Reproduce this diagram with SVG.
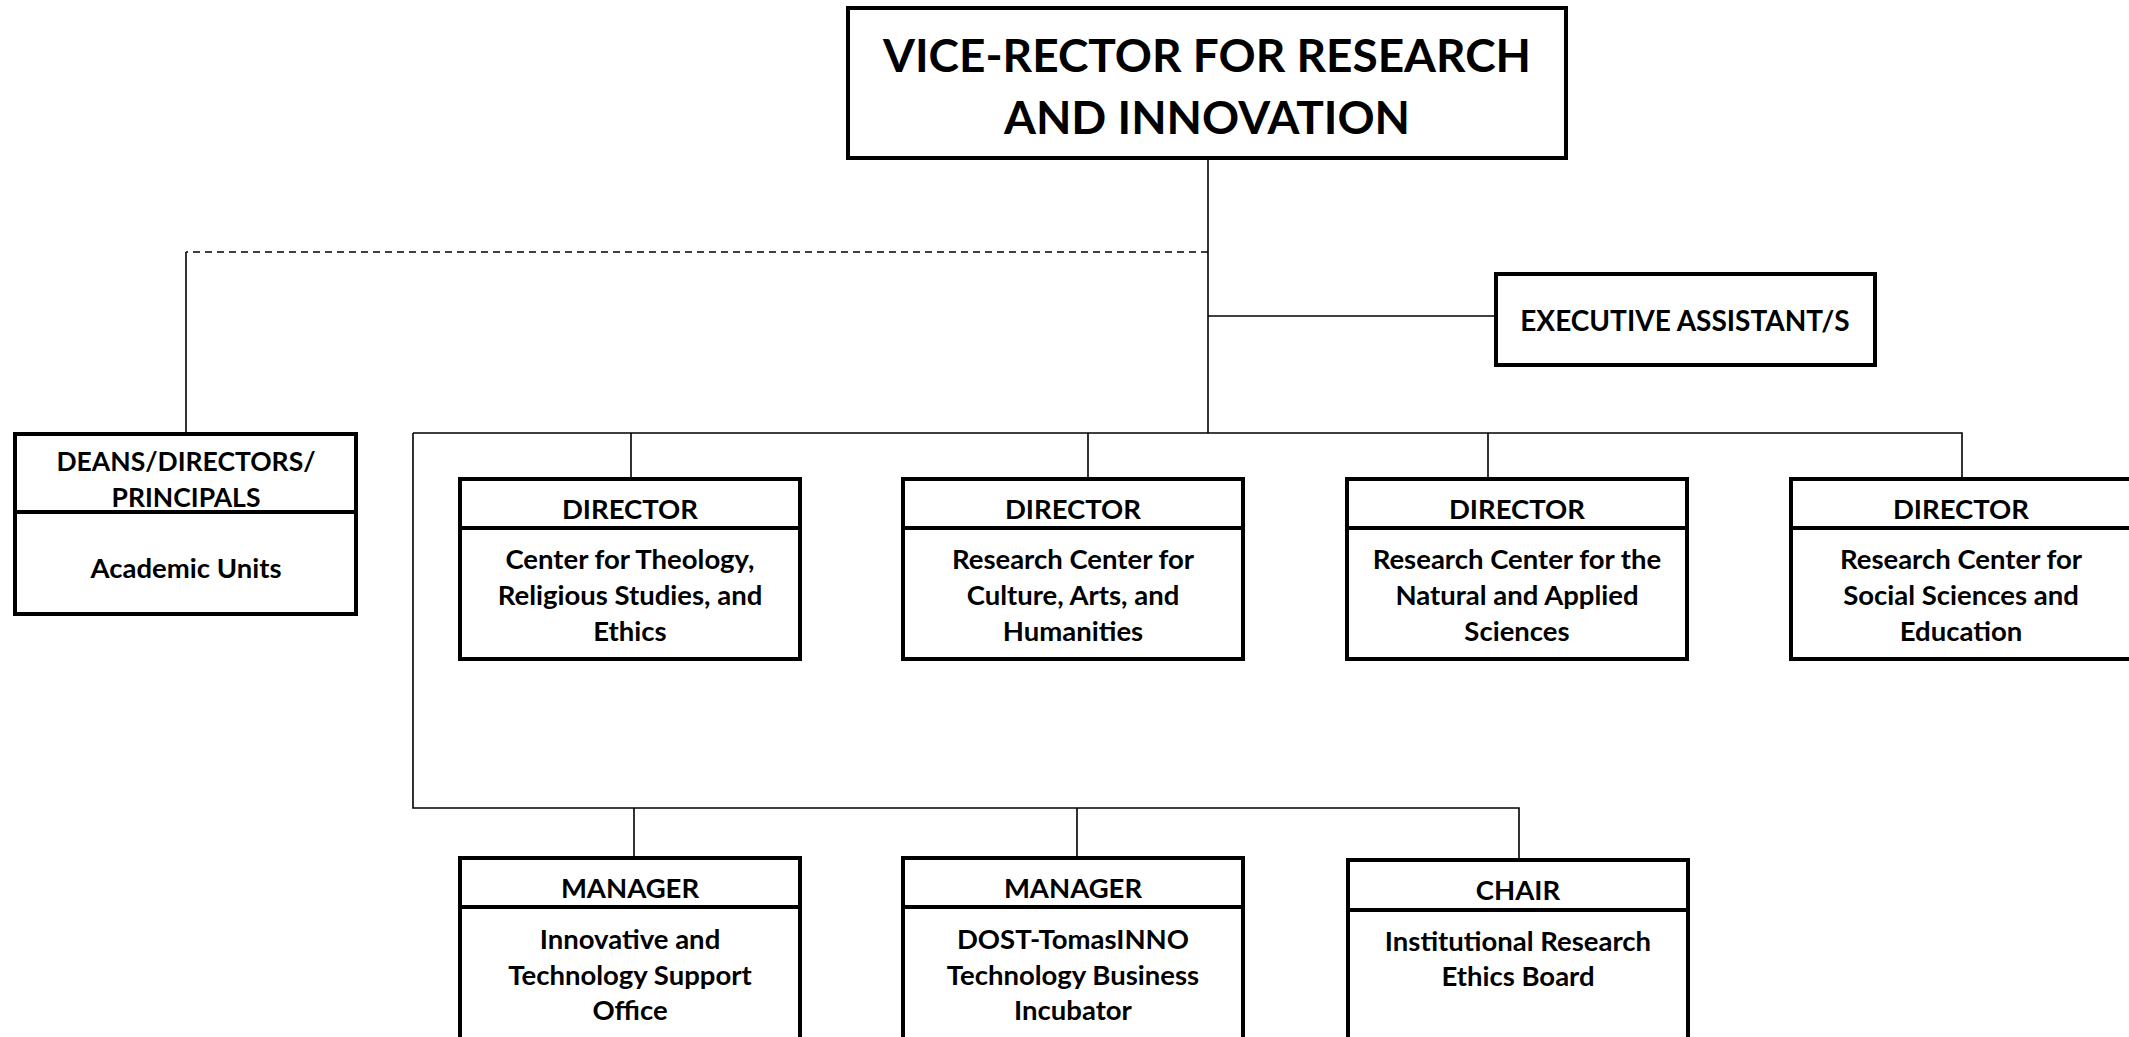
<svg xmlns="http://www.w3.org/2000/svg" width="2129" height="1037" viewBox="0 0 2129 1037">
<style>
.box{fill:#fff;stroke:#000;stroke-width:4}
.div{stroke:#000;stroke-width:4}
.ln{fill:none;stroke:#000;stroke-width:1.6}
.dash{fill:none;stroke:#000;stroke-width:1.6;stroke-dasharray:7 5}
text{font-family:Lato,"Open Sans","Liberation Sans",sans-serif;font-weight:bold;fill:#000;text-anchor:middle;dominant-baseline:central}
.t{font-size:27.5px}
.d{font-size:26.5px}
.e{font-size:28px}
.big{font-size:46px}
</style>
<rect width="2129" height="1037" fill="#fff"/>
<g id="connectors">
<path class="ln" d="M1208 158V433"/>
<path class="dash" d="M1208 252H186"/>
<path class="ln" d="M186 252V433"/>
<path class="ln" d="M1208 316H1496"/>
<path class="ln" d="M413 433H1962V479"/>
<path class="ln" d="M631 433V479M1088 433V479M1488 433V479"/>
<path class="ln" d="M413 433V808H1519V858"/>
<path class="ln" d="M634 808V858M1077 808V858"/>
</g>
<g id="vice-rector">
<rect class="box" x="848" y="8" width="718" height="150"/>
<text class="big" x="1207" y="54">VICE-RECTOR FOR RESEARCH</text>
<text class="big" x="1207" y="116">AND INNOVATION</text>
</g>
<g id="exec-assistant">
<rect class="box" x="1496" y="274" width="379" height="91"/>
<text class="e" x="1685" y="320">EXECUTIVE ASSISTANT/S</text>
</g>
<g id="deans">
<rect class="box" x="15" y="434" width="341" height="180"/>
<line class="div" x1="15" y1="512" x2="356" y2="512"/>
<text class="d" x="186" y="461">DEANS/DIRECTORS/</text>
<text class="d" x="186" y="497">PRINCIPALS</text>
<text class="t" x="186" y="567">Academic Units</text>
</g>
<g id="dir-theology">
<rect class="box" x="460" y="479" width="340" height="180"/>
<line class="div" x1="460" y1="528" x2="800" y2="528"/>
<text class="t" x="630" y="508">DIRECTOR</text>
<text class="t" x="630" y="558">Center for Theology,</text>
<text class="t" x="630" y="594">Religious Studies, and</text>
<text class="t" x="630" y="630">Ethics</text>
</g>
<g id="dir-culture">
<rect class="box" x="903" y="479" width="340" height="180"/>
<line class="div" x1="903" y1="528" x2="1243" y2="528"/>
<text class="t" x="1073" y="508">DIRECTOR</text>
<text class="t" x="1073" y="558">Research Center for</text>
<text class="t" x="1073" y="594">Culture, Arts, and</text>
<text class="t" x="1073" y="630">Humanities</text>
</g>
<g id="dir-natural">
<rect class="box" x="1347" y="479" width="340" height="180"/>
<line class="div" x1="1347" y1="528" x2="1687" y2="528"/>
<text class="t" x="1517" y="508">DIRECTOR</text>
<text class="t" x="1517" y="558">Research Center for the</text>
<text class="t" x="1517" y="594">Natural and Applied</text>
<text class="t" x="1517" y="630">Sciences</text>
</g>
<g id="dir-social">
<rect class="box" x="1791" y="479" width="340" height="180"/>
<line class="div" x1="1791" y1="528" x2="2131" y2="528"/>
<text class="t" x="1961" y="508">DIRECTOR</text>
<text class="t" x="1961" y="558">Research Center for</text>
<text class="t" x="1961" y="594">Social Sciences and</text>
<text class="t" x="1961" y="630">Education</text>
</g>
<g id="mgr-itso">
<rect class="box" x="460" y="858" width="340" height="182"/>
<line class="div" x1="460" y1="907" x2="800" y2="907"/>
<text class="t" x="630" y="887">MANAGER</text>
<text class="t" x="630" y="938">Innovative and</text>
<text class="t" x="630" y="974">Technology Support</text>
<text class="t" x="630" y="1009">Office</text>
</g>
<g id="mgr-tbi">
<rect class="box" x="903" y="858" width="340" height="182"/>
<line class="div" x1="903" y1="907" x2="1243" y2="907"/>
<text class="t" x="1073" y="887">MANAGER</text>
<text class="t" x="1073" y="938">DOST-TomasINNO</text>
<text class="t" x="1073" y="974">Technology Business</text>
<text class="t" x="1073" y="1009">Incubator</text>
</g>
<g id="chair-ireb">
<rect class="box" x="1348" y="860" width="340" height="182"/>
<line class="div" x1="1348" y1="910" x2="1688" y2="910"/>
<text class="t" x="1518" y="889">CHAIR</text>
<text class="t" x="1518" y="940">Institutional Research</text>
<text class="t" x="1518" y="975">Ethics Board</text>
</g>
</svg>
